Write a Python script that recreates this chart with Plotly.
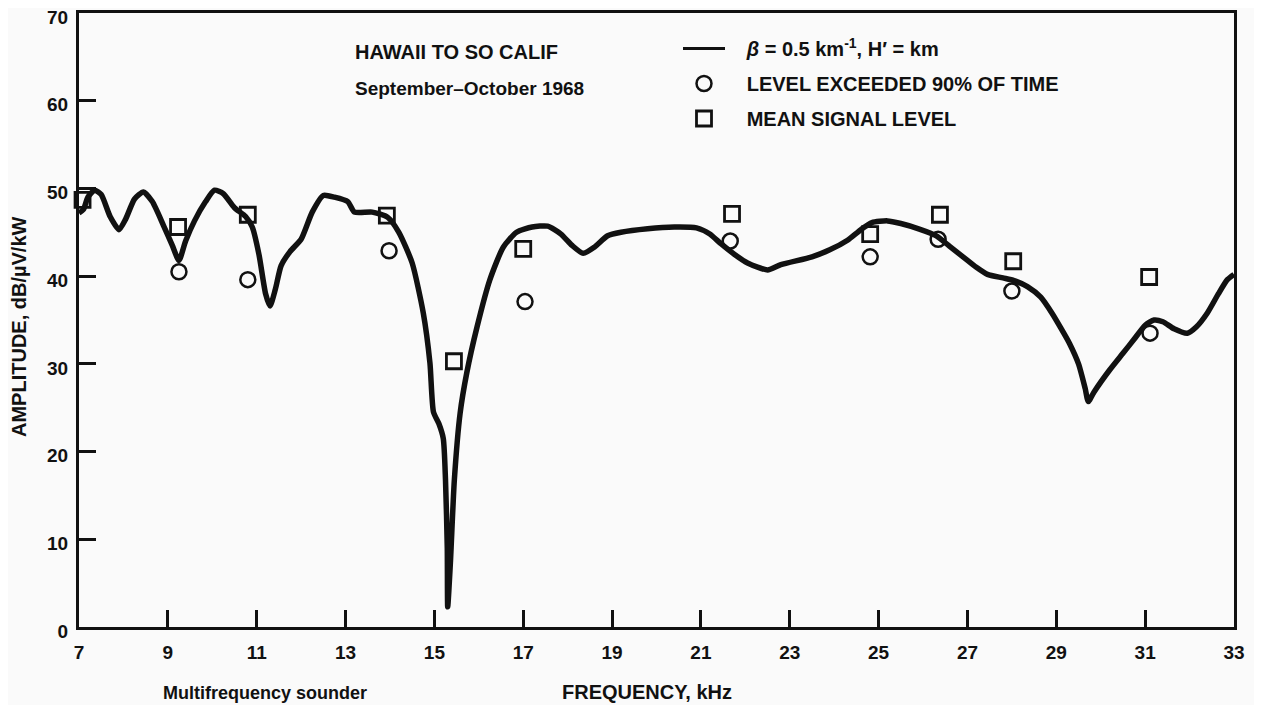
import plotly.graph_objects as go

# Computed curve (beta = 0.5 km^-1)
curve_freq = [7.00, 7.10, 7.20, 7.35, 7.50, 7.70, 7.90, 8.05, 8.25, 8.45, 8.65, 8.90, 9.10, 9.25,
              9.40, 9.60, 9.85, 10.05, 10.25, 10.50, 10.75, 10.90, 11.05, 11.20, 11.30, 11.42,
              11.55, 11.75, 12.00, 12.25, 12.50, 12.75, 13.05, 13.20, 13.60, 13.95, 14.20, 14.50,
              14.75, 14.90, 14.98, 15.10, 15.20, 15.25, 15.29, 15.30, 15.36, 15.45, 15.58, 15.73,
              15.96, 16.25, 16.55, 16.85, 17.20, 17.55, 17.85, 18.10, 18.35, 18.60, 18.90, 19.20,
              19.80, 20.40, 20.90, 21.20, 21.45, 21.75, 22.05, 22.50, 22.80, 23.50, 23.90, 24.30,
              24.60, 24.85, 25.20, 25.50, 25.90, 26.30, 26.60, 26.90, 27.20, 27.45, 27.80, 28.05,
              28.35, 28.65, 28.90, 29.10, 29.30, 29.50, 29.65, 29.72, 29.85, 30.20, 30.50, 30.75,
              31.00, 31.20, 31.40, 31.65, 31.95, 32.15, 32.40, 32.65, 32.85, 33.00]
curve_amp = [47.2, 47.6, 49.0, 49.8, 49.3, 46.8, 45.3, 46.5, 48.8, 49.6, 48.5, 45.8, 43.5, 41.8,
             44.0, 46.3, 48.5, 49.8, 49.4, 47.8, 46.8, 45.6, 42.5, 38.0, 36.6, 38.5,
             41.2, 42.8, 44.2, 47.3, 49.2, 49.0, 48.5, 47.3, 47.3, 46.7, 45.0, 41.5,
             35.8, 30.1, 24.5, 23.2, 21.5, 16.8, 9.0, 2.3, 7.3, 16.8, 24.4, 29.0,
             34.2, 39.6, 43.3, 45.0, 45.6, 45.7, 44.8, 43.5, 42.6, 43.3, 44.6, 45.0,
             45.4, 45.6, 45.5, 44.8, 43.7, 42.5, 41.5, 40.7, 41.3, 42.2, 43.0, 44.1,
             45.3, 46.1, 46.3, 46.0, 45.4, 44.6, 43.4, 42.2, 41.0, 40.2, 39.8, 39.5,
             38.8, 37.6, 35.8, 34.1, 32.3, 30.0, 27.2, 25.7, 26.8, 29.3, 31.2, 32.8,
             34.4, 35.0, 34.8, 34.0, 33.5, 34.2, 35.8, 38.0, 39.6, 40.2]

# Level exceeded 90% of time (circles)
p90_freq = [9.25, 10.80, 13.98, 17.04, 21.66, 24.81, 26.34, 28.00, 31.11]
p90_amp = [40.5, 39.6, 42.9, 37.1, 44.0, 42.2, 44.2, 38.3, 33.5]

# Mean signal level (squares)
mean_freq = [7.08, 9.23, 10.80, 13.93, 15.44, 17.00, 21.70, 24.81, 26.38, 28.03, 31.09]
mean_amp = [48.7, 45.6, 47.0, 46.9, 30.3, 43.1, 47.1, 44.8, 47.0, 41.7, 39.9]

x_ticks = [7, 9, 11, 13, 15, 17, 19, 21, 23, 25, 27, 29, 31, 33]
y_ticks = [0, 10, 20, 30, 40, 50, 60, 70]

INK = "#111111"
FONT = "Liberation Sans, Arial, sans-serif"

# page body has an 8px margin; size the figure so the plot lands where the reference has it
OFF = 8
W, H = 1262 - OFF, 705 - OFF
L, R, T, B = 79 - OFF, 28, 13 - OFF, 78
PW, PH = W - L - R, H - T - B


def px_x(px):
    return (px - OFF - L) / PW


def px_y(py):
    return (H - B - (py - OFF)) / PH


NB = "\u00a0"

fig = go.Figure()
fig.add_trace(go.Scatter(
    x=curve_freq, y=curve_amp, mode="lines",
    line=dict(color=INK, width=5.5, shape="spline", smoothing=0.6),
    showlegend=False, cliponaxis=False, hoverinfo="x+y",
))
fig.add_trace(go.Scatter(
    x=[None], y=[None], mode="lines",
    line=dict(color=INK, width=3),
    name=NB * 3 + "<i>β</i> = 0.5 km<sup>-1</sup>, H′ = km",
    legendgroup="a",
))
fig.add_trace(go.Scatter(
    x=p90_freq, y=p90_amp, mode="markers",
    marker=dict(symbol="circle-open", size=15, color=INK, line=dict(width=2.5, color=INK)),
    name=NB * 3 + "LEVEL EXCEEDED 90% OF TIME", legendgroup="b", cliponaxis=False,
))
fig.add_trace(go.Scatter(
    x=mean_freq, y=mean_amp, mode="markers",
    marker=dict(symbol="square-open", size=15, color=INK, line=dict(width=2.8, color=INK)),
    name=NB * 3 + "MEAN SIGNAL LEVEL", legendgroup="c", cliponaxis=False,
))

axis_common = dict(
    showline=True, linecolor=INK, linewidth=3, mirror=True,
    ticks="inside", ticklen=17, tickwidth=3, tickcolor=INK,
    showgrid=False, zeroline=False, automargin=False,
    ticklabeloverflow="allow",
    tickfont=dict(family=FONT, size=19, color=INK, weight="bold"),
)

fig.update_xaxes(range=[7, 33], tickvals=x_ticks, ticktext=[str(v) for v in x_ticks],
                 ticklabelstandoff=6, **axis_common)
fig.update_yaxes(range=[0, 70], tickvals=y_ticks, ticktext=[str(v) for v in y_ticks],
                 ticklabelstandoff=4, ticklabelshift=4, **axis_common)

annots = [
    dict(text="HAWAII TO SO CALIF", x=px_x(353), y=px_y(52), xanchor="left", yanchor="middle",
         font=dict(size=20)),
    dict(text="September–October 1968", x=px_x(353), y=px_y(88), xanchor="left", yanchor="middle",
         font=dict(size=19)),
    dict(text="AMPLITUDE, dB/µV/kW", x=px_x(19), y=px_y(327), xanchor="center", yanchor="middle",
         textangle=-90, font=dict(size=20)),
    dict(text="FREQUENCY, kHz", x=px_x(647), y=px_y(692), xanchor="center", yanchor="middle",
         font=dict(size=20)),
    dict(text="Multifrequency sounder", x=px_x(265), y=px_y(693), xanchor="center", yanchor="middle",
         font=dict(size=18)),
]
for a in annots:
    a.update(xref="paper", yref="paper", showarrow=False)
    a["font"].update(family=FONT, color=INK, weight="bold")

fig.update_layout(
    width=W, height=H,
    margin=dict(l=L, r=R, t=T, b=B, autoexpand=False),
    paper_bgcolor="#fafafa", plot_bgcolor="#fafafa",
    showlegend=True,
    legend=dict(
        x=px_x(678), y=px_y(29), xanchor="left", yanchor="top",
        bgcolor="rgba(0,0,0,0)", borderwidth=0,
        font=dict(family=FONT, size=20, color=INK, weight="bold"),
        tracegroupgap=6, itemwidth=42, itemsizing="trace",
    ),
    annotations=annots,
)

fig.write_html("out.html")
